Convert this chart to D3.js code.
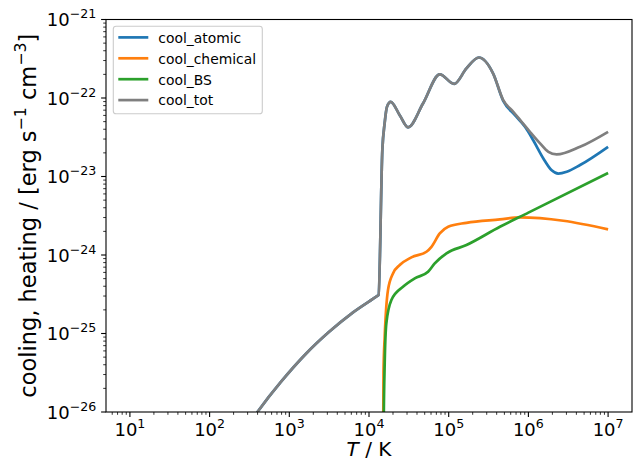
<!DOCTYPE html>
<html><head><meta charset="utf-8">
<script src="https://cdn.jsdelivr.net/npm/d3@7"></script>
<style>
body{margin:0;background:#fff}
svg{display:block}
text{font-family:"DejaVu Sans",sans-serif;fill:#000}
</style>
</head><body>
<svg id="chart" width="638" height="461"></svg>
<script>
// ---- data ----
const seriesNames  = ["cool_atomic", "cool_chemical", "cool_BS", "cool_tot"];
const seriesColors = ["#1f77b4", "#ff7f0e", "#2ca02c", "#7f7f7f"];

// temperature [K] and cooling rate [erg s^-1 cm^-3]
const T_atomic    = [10, 31.6, 100, 200, 398, 794, 1585, 3162, 6310, 1.288e4, 1.318e4, 1.47e4, 1.57e4, 1.68e4, 1.87e4, 2.43e4, 3.09e4, 4.76e4, 7.73e4, 1.17e5, 1.67e5, 2.39e5, 3.61e5, 4.83e5, 6.78e5, 9.06e5, 1.15e6, 1.54e6, 1.96e6, 2.37e6, 3.03e6, 4.45e6, 1e7];
const cool_atomic = [1.3e-29, 1.5e-28, 1.2e-27, 3.6e-27, 1.0e-26, 2.45e-26, 5.4e-26, 1.05e-25, 1.86e-25, 3.04e-25, 3.09e-25, 2.18e-23, 4.74e-23, 7.7e-23, 8.93e-23, 6.04e-23, 4.22e-23, 8.5e-23, 2.0e-22, 1.51e-22, 2.38e-22, 3.28e-22, 2.05e-22, 9.2e-23, 6.04e-23, 4.3e-23, 2.9e-23, 1.7e-23, 1.2e-23, 1.09e-23, 1.15e-23, 1.40e-23, 2.39e-23];

const T_chemical    = [1.48e4, 1.496e4, 1.52e4, 1.574e4, 1.73e4, 2.0e4, 2.43e4, 3.40e4, 5.26e4, 6.08e4, 7.73e4, 9.84e4, 1.67e5, 4.39e5, 7.83e5, 2.74e6, 1e7];
const cool_chemical = [1e-29, 1e-27, 3.2e-26, 9.1e-26, 3.57e-25, 5.83e-25, 7.45e-25, 9.33e-25, 1.10e-24, 1.27e-24, 1.88e-24, 2.29e-24, 2.57e-24, 2.84e-24, 3.01e-24, 2.73e-24, 2.12e-24];

const T_BS    = [1.51e4, 1.528e4, 1.574e4, 1.65e4, 1.91e4, 2.67e4, 3.75e4, 5.51e4, 6.68e4, 9.38e4, 1.67e5, 4.39e5, 1e6, 1e7];
const cool_BS = [1e-29, 6.3e-27, 4.2e-26, 1.35e-25, 2.67e-25, 3.94e-25, 5.04e-25, 6.11e-25, 7.82e-25, 1.05e-24, 1.34e-24, 2.29e-24, 3.47e-24, 1.11e-23];

const T_tot    = [10, 31.6, 100, 200, 398, 794, 1585, 3162, 6310, 1.288e4, 1.318e4, 1.47e4, 1.57e4, 1.68e4, 1.87e4, 2.43e4, 3.09e4, 4.76e4, 7.73e4, 1.17e5, 1.67e5, 2.39e5, 3.61e5, 4.83e5, 6.46e5, 8.22e5, 1.045e6, 1.40e6, 1.78e6, 2.26e6, 4.45e6, 1e7];
const cool_tot = [1.3e-29, 1.5e-28, 1.2e-27, 3.6e-27, 1.0e-26, 2.45e-26, 5.4e-26, 1.05e-25, 1.86e-25, 3.04e-25, 3.09e-25, 2.18e-23, 4.74e-23, 7.7e-23, 8.93e-23, 6.04e-23, 4.22e-23, 8.5e-23, 2.0e-22, 1.51e-22, 2.38e-22, 3.28e-22, 2.05e-22, 9.4e-23, 6.67e-23, 4.97e-23, 3.71e-23, 2.64e-23, 2.06e-23, 1.91e-23, 2.39e-23, 3.71e-23];

const xTickExps = [1, 2, 3, 4, 5, 6, 7];
const yTickExps = [-26, -25, -24, -23, -22, -21];
const xDomain = [5.012, 1.995e7];
const yDomain = [1e-26, 1e-21];

// ---- layout ----
const L = 106, R = 632, T = 19.5, B = 412;
const tickFont = 18, xLabelFont = 20, yLabelFont = 22.5;
const svg = d3.select("#chart");
const x = d3.scaleLog().domain(xDomain).range([L, R]);
const y = d3.scaleLog().domain(yDomain).range([B, T]);

svg.append("defs").append("clipPath").attr("id", "clip")
  .append("rect").attr("x", L).attr("y", T).attr("width", R - L).attr("height", B - T);

const series = [
  {name: seriesNames[0], color: seriesColors[0], xs: T_atomic,   ys: cool_atomic},
  {name: seriesNames[1], color: seriesColors[1], xs: T_chemical, ys: cool_chemical},
  {name: seriesNames[2], color: seriesColors[2], xs: T_BS,       ys: cool_BS},
  {name: seriesNames[3], color: seriesColors[3], xs: T_tot,      ys: cool_tot}
];

const line = d3.line().x(d => x(d[0])).y(d => y(d[1])).curve(d3.curveMonotoneX);
const gLines = svg.append("g").attr("clip-path", "url(#clip)");
series.forEach(s => {
  gLines.append("path")
    .attr("d", line(s.xs.map((v, i) => [v, s.ys[i]])))
    .attr("fill", "none").attr("stroke", s.color)
    .attr("stroke-width", 2.7).attr("stroke-linejoin", "round").attr("stroke-linecap", "butt");
});

// ---- ticks ----
const gT = svg.append("g");
function minorVals(lo, hi) {
  const out = [];
  for (let e = Math.floor(Math.log10(lo)); e <= Math.ceil(Math.log10(hi)); e++) {
    for (let m = 2; m <= 9; m++) {
      const v = m * Math.pow(10, e);
      if (v >= lo && v <= hi) out.push(v);
    }
  }
  return out;
}
minorVals(xDomain[0], xDomain[1]).forEach(v => {
  const px = x(v);
  gT.append("line").attr("x1", px).attr("x2", px).attr("y1", B).attr("y2", B + 2.8)
    .attr("stroke", "#000").attr("stroke-width", 0.8);
});
minorVals(yDomain[0], yDomain[1]).forEach(v => {
  const py = y(v);
  gT.append("line").attr("x1", L - 2.8).attr("x2", L).attr("y1", py).attr("y2", py)
    .attr("stroke", "#000").attr("stroke-width", 0.8);
});

function sup(sel, base, expStr, fs) {
  sel.append("tspan").text(base);
  sel.append("tspan").attr("font-size", fs * 0.7).attr("dy", -fs * 0.44).text(expStr);
}
xTickExps.forEach(e => {
  const px = x(Math.pow(10, e));
  gT.append("line").attr("x1", px).attr("x2", px).attr("y1", B).attr("y2", B + 4.9)
    .attr("stroke", "#000").attr("stroke-width", 1.1);
  const t = gT.append("text").attr("x", px).attr("y", 435.5).attr("text-anchor", "middle")
    .attr("font-size", tickFont);
  sup(t, "10", String(e), tickFont);
});
yTickExps.forEach(e => {
  const py = y(Math.pow(10, e));
  gT.append("line").attr("x1", L - 4.9).attr("x2", L).attr("y1", py).attr("y2", py)
    .attr("stroke", "#000").attr("stroke-width", 1.1);
  const t = gT.append("text").attr("x", 96.3).attr("y", py + 6.6).attr("text-anchor", "end")
    .attr("font-size", tickFont);
  sup(t, "10", "\u2212" + String(-e), tickFont);
});

// ---- frame ----
svg.append("rect").attr("x", L).attr("y", T).attr("width", R - L).attr("height", B - T)
  .attr("fill", "none").attr("stroke", "#000").attr("stroke-width", 1.1);

// ---- axis labels ----
const xl = svg.append("text").attr("x", (L + R) / 2).attr("y", 456).attr("text-anchor", "middle")
  .attr("font-size", xLabelFont);
xl.append("tspan").attr("font-style", "italic").text("T");
xl.append("tspan").text(" / K");

const supFs = yLabelFont * 0.7, supDy = yLabelFont * 0.44;
const yl = svg.append("text").attr("transform", `translate(36,${(T + B) / 2}) rotate(-90)`)
  .attr("text-anchor", "middle").attr("font-size", yLabelFont);
yl.append("tspan").text("cooling, heating / [erg s");
yl.append("tspan").attr("font-size", supFs).attr("dy", -supDy).text("\u22121");
yl.append("tspan").attr("dy", supDy).text(" cm");
yl.append("tspan").attr("font-size", supFs).attr("dy", -supDy).text("\u22123");
yl.append("tspan").attr("dy", supDy).text("]");

// ---- legend ----
const lg = svg.append("g");
lg.append("rect").attr("x", 113.3).attr("y", 26.3).attr("width", 149).attr("height", 87.5)
  .attr("rx", 2.8).attr("fill", "#fff").attr("fill-opacity", 0.8)
  .attr("stroke", "#cccccc").attr("stroke-width", 1.1);
series.forEach((s, i) => {
  const cy = 37.4 + 20.9 * i;
  lg.append("line").attr("x1", 118.3).attr("x2", 148.3).attr("y1", cy).attr("y2", cy)
    .attr("stroke", s.color).attr("stroke-width", 2.7);
  lg.append("text").attr("x", 158.3).attr("y", cy + 5.3).attr("font-size", 13.9).text(s.name);
});
</script>
</body></html>
